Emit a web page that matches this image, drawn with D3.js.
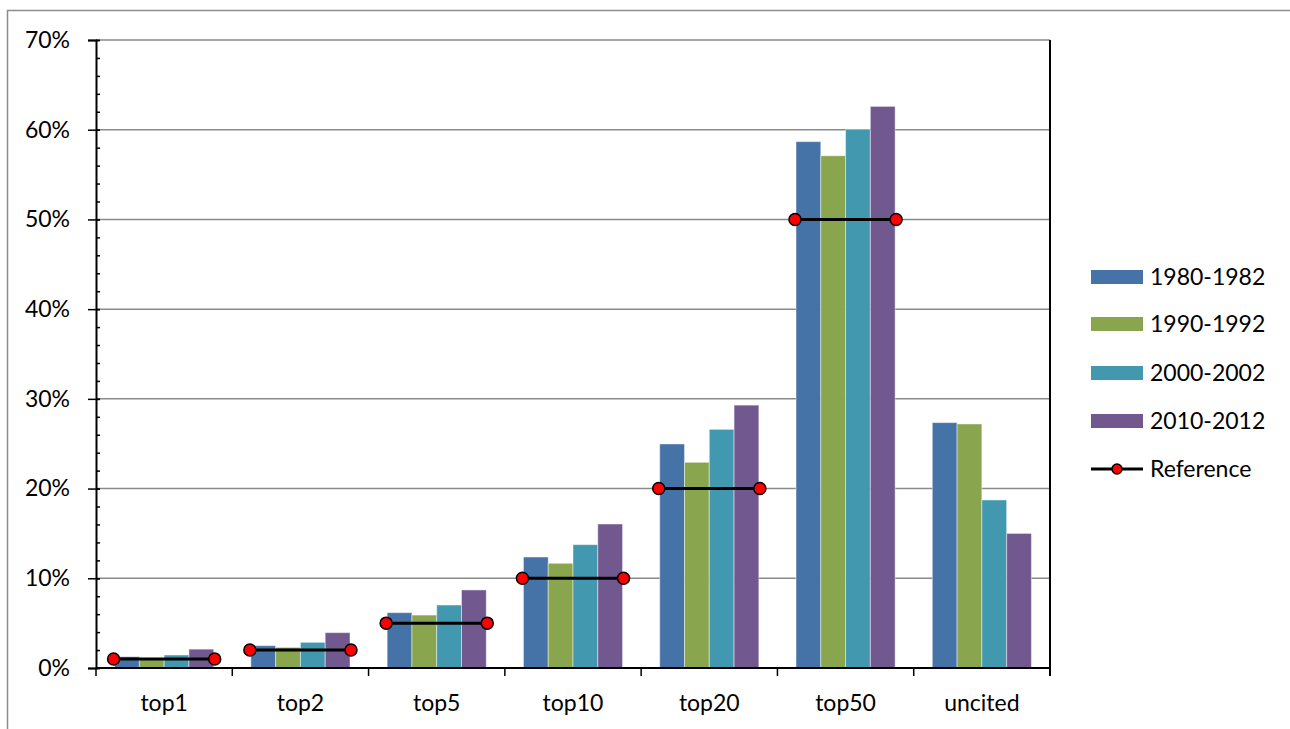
<!DOCTYPE html>
<html>
<head>
<meta charset="utf-8">
<script src="https://cdn.jsdelivr.net/npm/d3@7"></script>
<style>
  html, body { margin: 0; padding: 0; background: #fff; }
  svg { display: block; font-family: Lato, "Open Sans", sans-serif; }
</style>
</head>
<body>
<svg id="chart" width="1290" height="729"></svg>
<script>
// Share of publications by citation class, per period
const categories = ["top1", "top2", "top5", "top10", "top20", "top50", "uncited"];
const seriesNames = ["1980-1982", "1990-1992", "2000-2002", "2010-2012"];
const s1980 = [0.0126, 0.0249, 0.0617, 0.1237, 0.2497, 0.5867, 0.2735];
const s1990 = [0.0104, 0.0230, 0.0590, 0.1167, 0.2293, 0.5710, 0.2720];
const s2000 = [0.0145, 0.0286, 0.0702, 0.1375, 0.2660, 0.6005, 0.1873];
const s2010 = [0.0210, 0.0394, 0.0870, 0.1605, 0.2930, 0.6260, 0.1500];
// Expected share under a uniform citation distribution (no value for uncited)
const referenceValues = [0.01, 0.02, 0.05, 0.10, 0.20, 0.50, null];
const yTicks = [0, 0.1, 0.2, 0.3, 0.4, 0.5, 0.6, 0.7];
const colors = ["#4572A7", "#89A54E", "#4198AF", "#71588F"];

const series = [s1980, s1990, s2000, s2010];
const FONT = 23;

const svg = d3.select("#chart");
const plot = { left: 96, right: 1050, top: 40, bottom: 668 };

// outer chart frame
svg.append("rect")
  .attr("x", 7.5).attr("y", 10.5)
  .attr("width", 1290).attr("height", 740)
  .attr("fill", "none").attr("stroke", "#8c8c8c").attr("stroke-width", 1.5);

const y = d3.scaleLinear().domain([0, 0.7]).range([plot.bottom, plot.top]);
const x0 = d3.scaleBand().domain(categories).range([plot.left, plot.right])
  .paddingInner(0.2727).paddingOuter(0.13635);
const x1 = d3.scaleBand().domain(seriesNames).range([0, x0.bandwidth()]);

// horizontal gridlines
svg.append("g")
  .selectAll("line").data(yTicks.slice(1)).join("line")
  .attr("x1", plot.left).attr("x2", plot.right)
  .attr("y1", d => y(d)).attr("y2", d => y(d))
  .attr("stroke", "#8a8a8a").attr("stroke-width", 1.5);

// bars
const groups = svg.append("g").selectAll("g").data(categories).join("g")
  .attr("transform", d => `translate(${x0(d)},0)`);
groups.selectAll("rect")
  .data((c, ci) => seriesNames.map((s, si) => ({ s, si, v: series[si][ci] })))
  .join("rect")
  .attr("x", d => x1(d.s))
  .attr("width", x1.bandwidth())
  .attr("y", d => y(d.v))
  .attr("height", d => y(0) - y(d.v))
  .attr("fill", d => colors[d.si])
  .attr("stroke", "rgba(255,255,255,0.45)")
  .attr("stroke-width", 1);

// y axis with major and minor ticks
const yAxis = svg.append("g").attr("transform", `translate(${plot.left},0)`);
yAxis.append("g")
  .call(d3.axisLeft(y).tickValues(d3.range(0, 0.7001, 0.02)).tickSize(-4).tickFormat(""))
  .call(g => g.select(".domain").remove())
  .call(g => g.selectAll("line").attr("stroke", "#000").attr("stroke-width", 1.5));
yAxis.append("g")
  .call(d3.axisLeft(y).tickValues(yTicks).tickSize(8).tickPadding(18)
    .tickFormat(d3.format(".0%")))
  .call(g => g.select(".domain").attr("stroke", "#000").attr("stroke-width", 2))
  .call(g => g.selectAll(".tick line").attr("stroke", "#000").attr("stroke-width", 1.5).attr("x2", -8).attr("x1", 4))
  .call(g => g.selectAll("text").attr("font-size", FONT).attr("fill", "#000")
    .attr("font-family", "Lato, 'Open Sans', sans-serif"));

// right-hand frame line
svg.append("line")
  .attr("x1", plot.right).attr("x2", plot.right)
  .attr("y1", plot.top).attr("y2", plot.bottom + 8)
  .attr("stroke", "#000").attr("stroke-width", 2);

// x axis with ticks at category boundaries
const boundaries = categories.map(c => x0(c) - x0.step() * x0.paddingOuter())
  .concat([plot.right]);
const xAxis = svg.append("g");
xAxis.append("line")
  .attr("x1", plot.left).attr("x2", plot.right)
  .attr("y1", plot.bottom).attr("y2", plot.bottom)
  .attr("stroke", "#000").attr("stroke-width", 2);
xAxis.selectAll("line.tk").data(boundaries).join("line").attr("class", "tk")
  .attr("x1", d => d).attr("x2", d => d)
  .attr("y1", plot.bottom).attr("y2", plot.bottom + 8)
  .attr("stroke", "#000").attr("stroke-width", 1.5);
xAxis.selectAll("text").data(categories).join("text")
  .attr("x", d => x0(d) + x0.bandwidth() / 2)
  .attr("y", 711)
  .attr("text-anchor", "middle")
  .attr("font-size", FONT).attr("fill", "#000")
  .text(d => d);

// reference segments spanning each bar group
const refData = categories.map((c, i) => ({ c, v: referenceValues[i] }))
  .filter(d => d.v !== null);
const ref = svg.append("g");
ref.selectAll("line").data(refData).join("line")
  .attr("x1", d => x0(d.c) - 1).attr("x2", d => x0(d.c) + x0.bandwidth() + 1)
  .attr("y1", d => y(d.v)).attr("y2", d => y(d.v))
  .attr("stroke", "#000").attr("stroke-width", 3);
const refPoints = refData.flatMap(d => [
  { x: x0(d.c) - 1, v: d.v },
  { x: x0(d.c) + x0.bandwidth() + 1, v: d.v }
]);
ref.selectAll("circle").data(refPoints).join("circle")
  .attr("cx", d => d.x).attr("cy", d => y(d.v)).attr("r", 6)
  .attr("fill", "#ff0000").attr("stroke", "#000").attr("stroke-width", 1.5);

// legend
const legend = svg.append("g").attr("transform", "translate(1091,0)");
const rowY = [277, 324, 373, 421, 469];
seriesNames.forEach((name, i) => {
  legend.append("rect")
    .attr("x", 0).attr("y", rowY[i] - 7)
    .attr("width", 52).attr("height", 14)
    .attr("fill", colors[i]);
  legend.append("text")
    .attr("x", 59).attr("y", rowY[i]).attr("dy", "0.35em")
    .attr("font-size", FONT).attr("fill", "#000").text(name);
});
legend.append("line")
  .attr("x1", 0).attr("x2", 52).attr("y1", rowY[4]).attr("y2", rowY[4])
  .attr("stroke", "#000").attr("stroke-width", 3);
legend.append("circle")
  .attr("cx", 26).attr("cy", rowY[4]).attr("r", 5)
  .attr("fill", "#ff0000").attr("stroke", "#000").attr("stroke-width", 1.5);
legend.append("text")
  .attr("x", 59).attr("y", rowY[4]).attr("dy", "0.35em")
  .attr("font-size", FONT).attr("fill", "#000").text("Reference");
</script>
</body>
</html>
